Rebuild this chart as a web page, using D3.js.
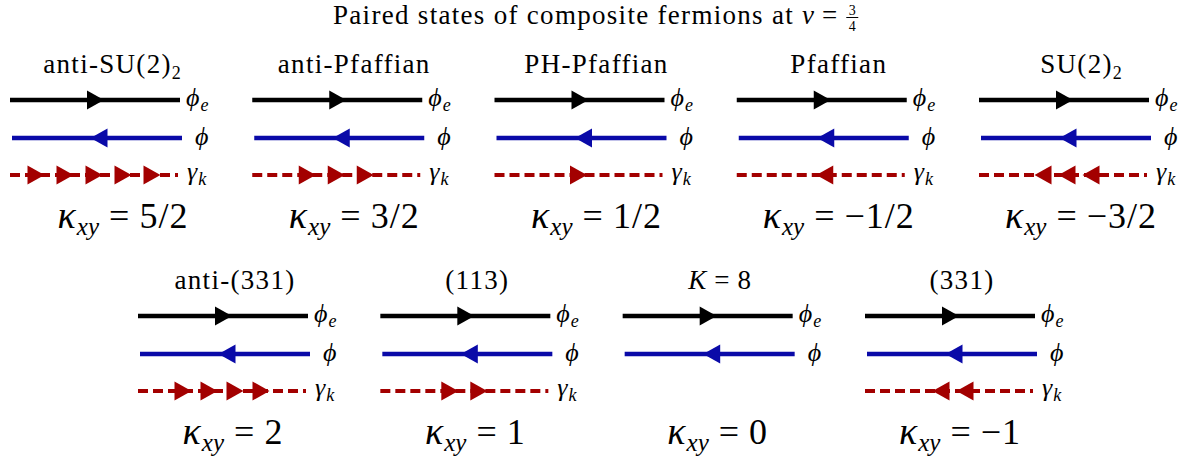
<!DOCTYPE html>
<html lang="en">
<head>
  <meta charset="UTF-8">
  <script src="https://d3js.org/d3.v7.min.js"></script>
</head>
<body style="margin:0">
  <svg id="chart" width="1193" height="461"></svg>

  <script>
    // Panel data
    const titles = ["anti-SU(2)", "anti-Pfaffian", "PH-Pfaffian", "Pfaffian", "SU(2)",
                    "anti-(331)", "(113)", "K = 8", "(331)"];
    const titleSubs = ["2", "", "", "", "2", "", "", "", ""];
    const kappas = ["5/2", "3/2", "1/2", "\u22121/2", "\u22123/2", "2", "1", "0", "\u22121"];
    // number of Majorana arrows on the gamma line (sign = direction)
    const gammaArrows = [5, 3, 1, -1, -3, 4, 2, 0, -2];
    const rowSizes = [5, 4];

    const blue = "#0a0aa8";
    const red = "#a30000";
    const serif = '"Liberation Serif", Tinos, "Times New Roman", serif';

    const svg = d3.select('#chart');

    // draw a run of text pieces one after another, then align the whole run
    function run(g, x, y, parts, anchor) {
      let cx = 0;
      const nodes = parts.map(pt => {
        const t = g.append('text')
          .attr('y', y + (pt.dy || 0))
          .attr('font-family', serif)
          .attr('font-size', pt.size);
        if (pt.italic) t.attr('font-style', 'italic');
        if (pt.ls) t.attr('letter-spacing', pt.ls);
        t.text(pt.t);
        cx += pt.gap || 0;
        t.attr('x', cx);
        cx += t.node().getComputedTextLength();
        return t;
      });
      const shift = anchor === 'middle' ? x - cx / 2 : x;
      nodes.forEach(t => t.attr('x', +t.attr('x') + shift));
      return nodes;
    }

    // main title with the 3/4 fraction
    const tnodes = run(svg, 333, 24, [
      { t: 'Paired states of composite fermions at', size: 27, ls: 1.3 },
      { t: '\u03bd', size: 27, italic: true, gap: 8 },
      { t: '=', size: 27, gap: 8 }
    ], 'start');
    const last = tnodes[tnodes.length - 1];
    const fx = +last.attr('x') + last.node().getComputedTextLength() + 15;
    svg.append('text').attr('x', fx).attr('y', 15).attr('text-anchor', 'middle')
      .attr('font-family', serif).attr('font-size', 14).text('3');
    svg.append('text').attr('x', fx).attr('y', 31).attr('text-anchor', 'middle')
      .attr('font-family', serif).attr('font-size', 14).text('4');
    svg.append('line').attr('x1', fx - 6).attr('x2', fx + 6)
      .attr('y1', 17.5).attr('y2', 17.5).attr('stroke', '#000').attr('stroke-width', 1);

    // panel positions
    const rowX = [
      d3.scaleLinear().domain([0, 4]).range([10, 979]),
      d3.scaleLinear().domain([0, 3]).range([138, 865])
    ];
    const rowY = d3.scaleLinear().domain([0, 1]).range([0, 216]);
    const lineLen = 170;

    const panels = titles.map((t, i) => {
      const row = i < rowSizes[0] ? 0 : 1;
      const col = row === 0 ? i : i - rowSizes[0];
      return { i, row, x0: rowX[row](col), dy: rowY(row) };
    });

    function triangle(cx, cy, dir) {
      const L = 17, H = 9.5;
      const p = d3.path();
      p.moveTo(cx + dir * L / 2, cy);
      p.lineTo(cx - dir * L / 2, cy - H);
      p.lineTo(cx - dir * L / 2, cy + H);
      p.closePath();
      return p.toString();
    }

    function fieldLabel(g, x, y, sym, sub) {
      const parts = [{ t: sym, size: 26, italic: true }];
      if (sub) parts.push({ t: sub, size: 18, italic: true, dy: 5, gap: 1 });
      run(g, x, y, parts, 'start');
    }

    panels.forEach(p => {
      const g = svg.append('g').attr('transform', `translate(0,${p.dy})`);
      const x = d3.scaleLinear().domain([0, 1]).range([p.x0, p.x0 + lineLen]);
      const mid = x(0.5);
      const tc = mid + (p.row === 0 ? 17 : 12);

      // panel title
      const m = titles[p.i].match(/^([A-Z]) = (.*)$/);
      let tparts;
      if (m) {
        tparts = [{ t: m[1], size: 27, italic: true },
                  { t: '=', size: 27, gap: 8 },
                  { t: m[2], size: 27, gap: 8 }];
      } else {
        tparts = [{ t: titles[p.i], size: 27, ls: 1.3 }];
      }
      if (titleSubs[p.i]) tparts.push({ t: titleSubs[p.i], size: 18, dy: 6 });
      run(g, tc, 73, tparts, 'middle');

      // phi_e line (black, right)
      g.append('line').attr('x1', x(0)).attr('x2', x(1))
        .attr('y1', 100).attr('y2', 100)
        .attr('stroke', '#000').attr('stroke-width', 4.5);
      g.append('path').attr('d', triangle(mid + 0.5, 100, 1)).attr('fill', '#000');
      fieldLabel(g, x(1) + 6, 106, '\u03d5', 'e');

      // phi line (blue, left)
      g.append('line').attr('x1', x(0) + 2).attr('x2', x(1) + 2)
        .attr('y1', 138).attr('y2', 138)
        .attr('stroke', blue).attr('stroke-width', 4.5);
      g.append('path').attr('d', triangle(mid + 4, 138, -1)).attr('fill', blue);
      fieldLabel(g, x(1) + 15, 145, '\u03d5', '');

      // gamma line (red, dashed)
      const n = gammaArrows[p.i];
      if (n !== 0) {
        g.append('line').attr('x1', x(0)).attr('x2', x(1) - 2)
          .attr('y1', 175).attr('y2', 175)
          .attr('stroke', red).attr('stroke-width', 4)
          .attr('stroke-dasharray', '10,5');
        const k = Math.abs(n), dir = Math.sign(n);
        const s = dir > 0 ? (k === 4 ? 26 : 29) : 24;
        const c0 = mid + (dir > 0 ? -1 : 3);
        d3.range(k).forEach(j => {
          g.append('path')
            .attr('d', triangle(c0 + (j - (k - 1) / 2) * s, 175, dir))
            .attr('fill', red);
        });
        fieldLabel(g, x(1) + 7, 180, '\u03b3', 'k');
      }

      // kappa label
      const kc = mid + (p.row === 0 ? (p.i === 0 ? 28 : 17) : 10);
      run(g, kc, 228, [
        { t: '\u03ba', size: 38, italic: true },
        { t: 'xy', size: 25, italic: true, dy: 7, gap: 1 },
        { t: '=', size: 36, gap: 10 },
        { t: kappas[p.i], size: 36, ls: 1, gap: 10 }
      ], 'middle');
    });
  </script>
</body>
</html>
